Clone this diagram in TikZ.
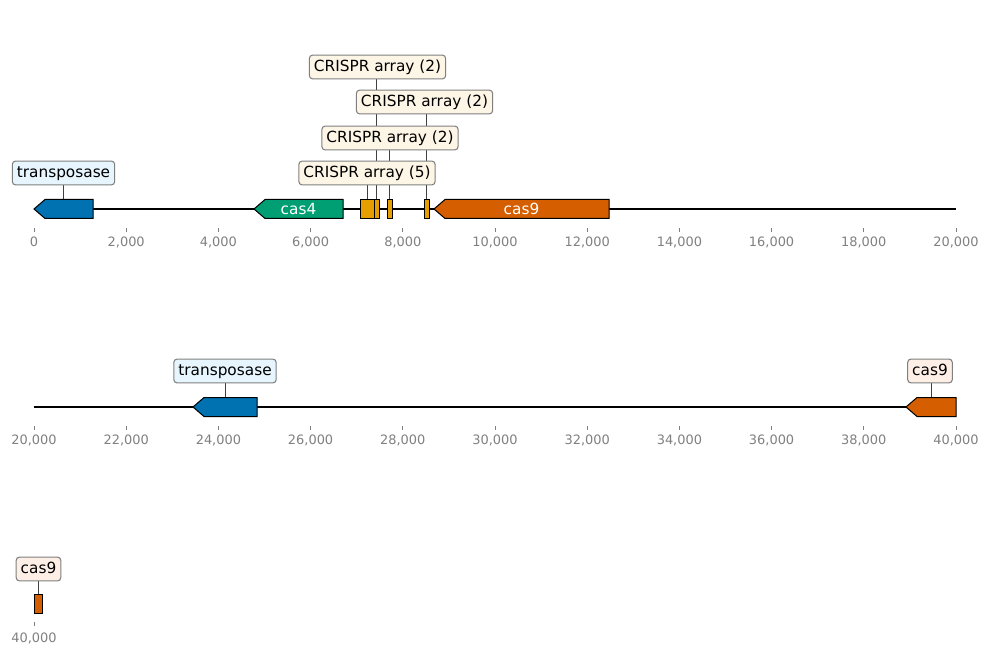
\documentclass[tikz,border=0pt]{standalone}
\usepackage{fontspec}
\setmainfont{DejaVu Sans}
\usetikzlibrary{backgrounds}
\definecolor{tnp}{HTML}{0072B2}
\definecolor{casfour}{HTML}{009E73}
\definecolor{crispr}{HTML}{E69F00}
\definecolor{casnine}{HTML}{D55E00}
\definecolor{tnpSoft}{HTML}{E7F5FE}
\definecolor{crisprSoft}{HTML}{FDF6E6}
\definecolor{casnineSoft}{HTML}{FDEFE6}
\definecolor{axisgrey}{HTML}{808080}
\definecolor{frame}{HTML}{7F7F7F}
\definecolor{leader}{HTML}{404040}
\tikzset{
  tag/.style={draw=frame,line width=0.8pt,rounded corners=2.5pt,text=black,
    font=\fontsize{11.5}{13}\selectfont,inner xsep=3.4pt,inner ysep=3.1pt,
    text height=8.9pt,text depth=2.8pt},
  tnptag/.style={tag,fill=tnpSoft},
  crtag/.style={tag,fill=crisprSoft},
  ninetag/.style={tag,fill=casnineSoft},
  inner/.style={font=\fontsize{11.5}{13}\selectfont,text=white,inner sep=0pt},
  gene/.style={draw=black,line width=0.75pt,line join=miter},
  track/.style={line width=1.1pt,draw=black},
  link/.style={line width=0.6pt,draw=leader},
  tickmark/.style={line width=0.6pt,draw=axisgrey},
  ticklab/.style={font=\fontsize{9.7}{11}\selectfont,text=axisgrey,inner sep=0pt}
}
% feature pointing left: name, tip x, right x, row y, colour
\newcommand{\leftgene}[5]{%
  \draw[gene,fill=#5] (#2,#4) -- ({#2+11},{#4-9.5}) -- (#3,{#4-9.5})
    -- (#3,{#4+9.5}) -- ({#2+11},{#4+9.5}) -- cycle;
  \coordinate (#1) at ({(#2+#3)/2},{#4-9.5});}
% plain box feature: name, left x, right x, row y, colour
\newcommand{\boxgene}[5]{%
  \draw[gene,fill=#5] (#2,{#4-9.5}) rectangle (#3,{#4+9.5});
  \coordinate (#1) at ({(#2+#3)/2},{#4-9.5});}

\begin{document}
\begin{tikzpicture}[x=0.75pt,y=-0.75pt]
  \useasboundingbox (0,0) rectangle (989,656);

  % first row, 0 -- 20,000
  \draw[track] (34,209) -- (956,209);
  \foreach \i in {0,...,10} {
    \pgfmathtruncatemacro\kb{2*\i}
    \draw[tickmark] ({34+92.2*\i},228) -- ({34+92.2*\i},232);
    \node[ticklab] (ta\i) at ({34+92.2*\i},242) {\ifnum\kb=0 0\else\kb,000\fi};
  }
  \leftgene{tnpA}{34}{93}{209}{tnp}
  \leftgene{cas4}{254}{343}{209}{casfour}
  \node[inner] (cas4txt) at (298.5,209) {cas4};
  \boxgene{crA}{360}{374}{209}{crispr}
  \boxgene{crB}{374}{379}{209}{crispr}
  \boxgene{crC}{387}{392}{209}{crispr}
  \boxgene{crD}{424}{429}{209}{crispr}
  \leftgene{casA}{434}{609}{209}{casnine}
  \node[inner] (casAtxt) at (521.5,209) {cas9};

  \node[tnptag] (labTnpA) at (63.5,173) {transposase};
  \node[crtag] (labCrB) at (377.5,67) {CRISPR array (2)};
  \node[crtag] (labCrD) at (424.5,102) {CRISPR array (2)};
  \node[crtag] (labCrC) at (390,138) {CRISPR array (2)};
  \node[crtag] (labCrA) at (367,173) {CRISPR array (5)};

  % second row, 20,000 -- 40,000
  \draw[track] (34,407) -- (956,407);
  \foreach \i in {0,...,10} {
    \pgfmathtruncatemacro\kb{20+2*\i}
    \draw[tickmark] ({34+92.2*\i},426) -- ({34+92.2*\i},430);
    \node[ticklab] (tb\i) at ({34+92.2*\i},440) {\kb,000};
  }
  \leftgene{tnpB}{193}{257}{407}{tnp}
  \leftgene{casB}{906}{956}{407}{casnine}
  \node[tnptag] (labTnpB) at (225,371) {transposase};
  \node[ninetag] (labCasB) at (930,371) {cas9};

  % third row, 40,000
  \draw[tickmark] (34,622) -- (34,626);
  \node[ticklab] (tc0) at (34,638) {40,000};
  \boxgene{casC}{34}{42}{604}{casnine}
  \node[ninetag] (labCasC) at (38.5,569) {cas9};

  \begin{pgfonlayer}{background}
    \foreach \g/\l in {tnpA/labTnpA,crA/labCrA,crB/labCrB,crC/labCrC,crD/labCrD,
                       tnpB/labTnpB,casB/labCasB,casC/labCasC}
      \draw[link] (\g) -- (\g |- \l.south);
  \end{pgfonlayer}
\end{tikzpicture}
\end{document}
